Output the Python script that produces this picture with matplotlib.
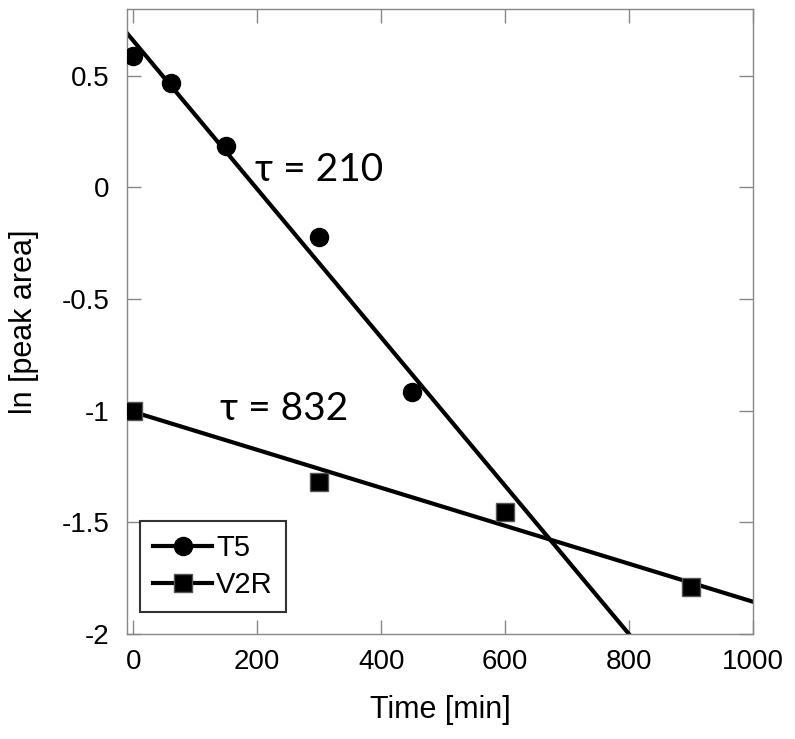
import matplotlib.pyplot as plt
import numpy as np

# measured points
t5_time = [0, 60, 150, 300, 450]
t5_ln = [0.59, 0.47, 0.185, -0.22, -0.915]
v2r_time = [0, 300, 600, 900]
v2r_ln = [-1.0, -1.32, -1.455, -1.79]

# fitted lines (end points)
t5_fit_x = [-10, 800]
t5_fit_y = [0.69, -2.0]
v2r_fit_x = [0, 1000]
v2r_fit_y = [-1.005, -1.855]

tau_labels = ["\u03c4 = 210", "\u03c4 = 832"]
tau_pos = [(197, 0.08), (140, -0.99)]

plt.rcParams['font.family'] = ['Liberation Sans', 'DejaVu Sans']

fig = plt.figure(figsize=(7.95, 7.39), dpi=100)
ax = fig.add_axes([0.16, 0.142, 0.787, 0.846])

ax.plot(t5_fit_x, t5_fit_y, color='black', lw=3, zorder=2)
ax.plot(v2r_fit_x, v2r_fit_y, color='black', lw=3, zorder=2)
ax.plot(t5_time, t5_ln, 'o', color='black', ms=13, zorder=3)
ax.plot(v2r_time, v2r_ln, 's', color='black', ms=13, mec='#555555', zorder=3)

# legend handles (line + marker)
h1, = ax.plot([], [], '-o', color='black', lw=3, ms=13, label='T5')
h2, = ax.plot([], [], '-s', color='black', lw=3, ms=13, mec='#555555', label='V2R')
leg = ax.legend(handles=[h1, h2], loc='lower left', bbox_to_anchor=(0.021, 0.035),
                borderaxespad=0, fontsize=21, frameon=True, fancybox=False,
                handlelength=2.0, handletextpad=0.15, borderpad=0.45,
                labelspacing=0.3)
leg.get_frame().set_edgecolor('black')
leg.get_frame().set_linewidth(1.5)

for lab, (x, y) in zip(tau_labels, tau_pos):
    ax.text(x, y, lab, fontsize=28, family=['Lato', 'DejaVu Sans'], va='center', ha='left')

ax.set_xlim(-10, 1000)
ax.set_ylim(-2, 0.8)
ax.set_xticks(np.arange(0, 1001, 200))
ax.set_yticks([-2, -1.5, -1, -0.5, 0, 0.5])
ax.set_yticklabels(['-2', '-1.5', '-1', '-0.5', '0', '0.5'])
ax.tick_params(direction='in', top=True, right=True, length=10, width=1,
               color='#888888', labelsize=20)
ax.tick_params(axis='x', pad=11)
ax.tick_params(axis='y', pad=13)
for s in ax.spines.values():
    s.set_color('#888888')
    s.set_linewidth(1)

ax.set_xlabel('Time [min]', fontsize=22, labelpad=14)
ax.set_ylabel('ln [peak area]', fontsize=22, labelpad=16)

fig.savefig('out.png', dpi=100)
